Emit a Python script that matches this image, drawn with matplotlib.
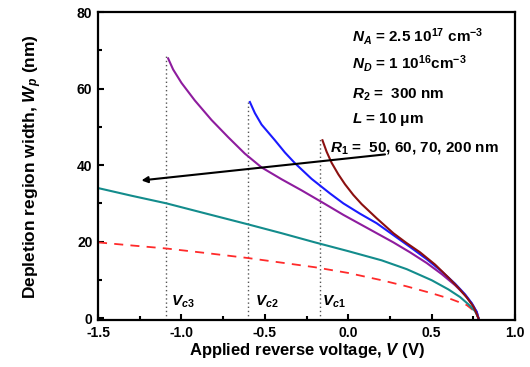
import matplotlib
matplotlib.use("Agg")
import matplotlib.pyplot as plt
from matplotlib.ticker import MultipleLocator, FormatStrFormatter

plt.rcParams['font.family'] = ['Liberation Sans', 'DejaVu Sans']
plt.rcParams['font.weight'] = 'bold'
plt.rcParams['axes.labelweight'] = 'bold'
plt.rcParams['mathtext.fontset'] = 'custom'
plt.rcParams['mathtext.rm'] = 'Liberation Sans:bold'
plt.rcParams['mathtext.it'] = 'Liberation Sans:italic:bold'
plt.rcParams['mathtext.bf'] = 'Liberation Sans:bold'

# Data
x_purple = [-1.08, -1.05, -1.0, -0.92, -0.82, -0.72, -0.62, -0.52, -0.40, -0.28, -0.15, -0.03, 0.07, 0.17, 0.27, 0.37, 0.47, 0.56, 0.64, 0.70, 0.74, 0.77, 0.78]
y_purple = [67.9, 65.0, 61.5, 56.9, 51.8, 47.3, 43.0, 39.4, 36.3, 33.4, 30.1, 27.0, 24.6, 22.2, 19.8, 17.2, 14.4, 11.5, 8.6, 6.0, 3.8, 1.6, 0.0]

x_blue = [-0.59, -0.56, -0.52, -0.44, -0.38, -0.32, -0.22, -0.11, -0.03, 0.07, 0.17, 0.27, 0.37, 0.47, 0.56, 0.64, 0.70, 0.74, 0.77, 0.78]
y_blue = [56.5, 53.6, 50.6, 46.5, 43.3, 40.5, 36.4, 32.6, 30.0, 27.3, 24.8, 21.7, 18.6, 15.4, 12.2, 9.0, 6.2, 3.9, 1.6, 0.0]

x_brown = [-0.155, -0.13, -0.10, -0.06, -0.02, 0.03, 0.08, 0.17, 0.27, 0.35, 0.43, 0.52, 0.60, 0.66, 0.71, 0.75, 0.78]
y_brown = [46.5, 43.5, 40.6, 37.6, 35.0, 32.2, 29.8, 26.1, 22.2, 19.6, 17.2, 14.0, 10.6, 7.9, 5.4, 3.0, 0.0]

x_teal = [-1.5, -1.3, -1.09, -0.85, -0.6, -0.4, -0.2, 0.0, 0.2, 0.35, 0.5, 0.6, 0.67, 0.72, 0.76, 0.78]
y_teal = [34.0, 32.0, 30.0, 27.3, 24.5, 22.2, 19.8, 17.5, 15.1, 12.8, 9.9, 7.5, 5.5, 3.6, 1.8, 0.0]

x_red = [-1.5, -1.3, -1.09, -0.85, -0.6, -0.4, -0.2, 0.0, 0.2, 0.35, 0.5, 0.62, 0.71, 0.75, 0.78]
y_red = [19.8, 19.0, 18.2, 17.0, 15.7, 14.5, 13.3, 11.8, 9.9, 8.3, 6.5, 4.9, 3.4, 2.0, 0.0]

vc_x = [-1.09, -0.60, -0.17]
vc_top = [69.0, 56.5, 47.0]
vc_labels = ['$V_{c3}$', '$V_{c2}$', '$V_{c1}$']
vc_label_x = [-1.06, -0.56, -0.16]

param_lines = ['$N_A$ = 2.5 10$^{17}$ cm$^{-3}$',
               '$N_D$ = 1 10$^{16}$cm$^{-3}$',
               '$R_2$ =  300 nm',
               '$L$ = 10 \u03bcm']
param_x = [0.02, 0.02, 0.02, 0.02]
param_y = [73.5, 66.5, 58.5, 52.0]

fig = plt.figure(figsize=(5.3, 3.67), dpi=100)
ax = fig.add_axes([0.185, 0.128, 0.787, 0.839])

for x, t in zip(vc_x, vc_top):
    ax.plot([x, x], [-0.5, t], linestyle=(0, (1, 2)), color='#555555', lw=1.0)

ax.plot(x_red, y_red, color='#FF2A2A', lw=1.3, linestyle=(0, (5, 4)))
ax.plot(x_teal, y_teal, color='#138C8C', lw=1.5)
ax.plot(x_purple, y_purple, color='#8E1C9E', lw=1.5)
ax.plot(x_blue, y_blue, color='#1A1AFF', lw=1.5)
ax.plot(x_brown, y_brown, color='#8B1010', lw=1.5)

ax.annotate('', xy=(-1.24, 36.0), xytext=(0.22, 42.8),
            arrowprops=dict(arrowstyle='-|>', color='black', lw=1.5,
                            mutation_scale=9, shrinkA=0, shrinkB=0))

for lx, lab in zip(vc_label_x, vc_labels):
    ax.text(lx, 2.0, lab, fontsize=11, ha='left', va='bottom', fontweight='bold')

for px, py, s in zip(param_x, param_y, param_lines):
    ax.text(px, py, s, fontsize=11, ha='left', va='center', fontweight='bold')
ax.text(-0.11, 44.6, '$R_1$ =  50, 60, 70, 200 nm', fontsize=11, ha='left', va='center',
        fontweight='bold')

ax.set_xlim(-1.5, 1.0)
ax.set_ylim(-0.5, 80)
ax.xaxis.set_major_locator(MultipleLocator(0.5))
ax.xaxis.set_minor_locator(MultipleLocator(0.25))
ax.yaxis.set_major_locator(MultipleLocator(20))
ax.yaxis.set_minor_locator(MultipleLocator(10))
ax.xaxis.set_major_formatter(FormatStrFormatter('%.1f'))
ax.tick_params(which='both', direction='in', top=False, right=False, width=1.5)
ax.tick_params(which='major', length=4, labelsize=10, pad=4)
ax.tick_params(which='minor', length=3)
for lab in ax.get_xticklabels() + ax.get_yticklabels():
    lab.set_fontweight('bold')
for sp in ax.spines.values():
    sp.set_linewidth(1.6)

ax.set_xlabel('Applied reverse voltage, $V$ (V)', fontsize=12, labelpad=1, fontweight='bold')
ax.set_ylabel('Depletion region width, $W_p$ (nm)', fontsize=12.5, labelpad=24, fontweight='bold')

fig.savefig('out.png', dpi=100)
